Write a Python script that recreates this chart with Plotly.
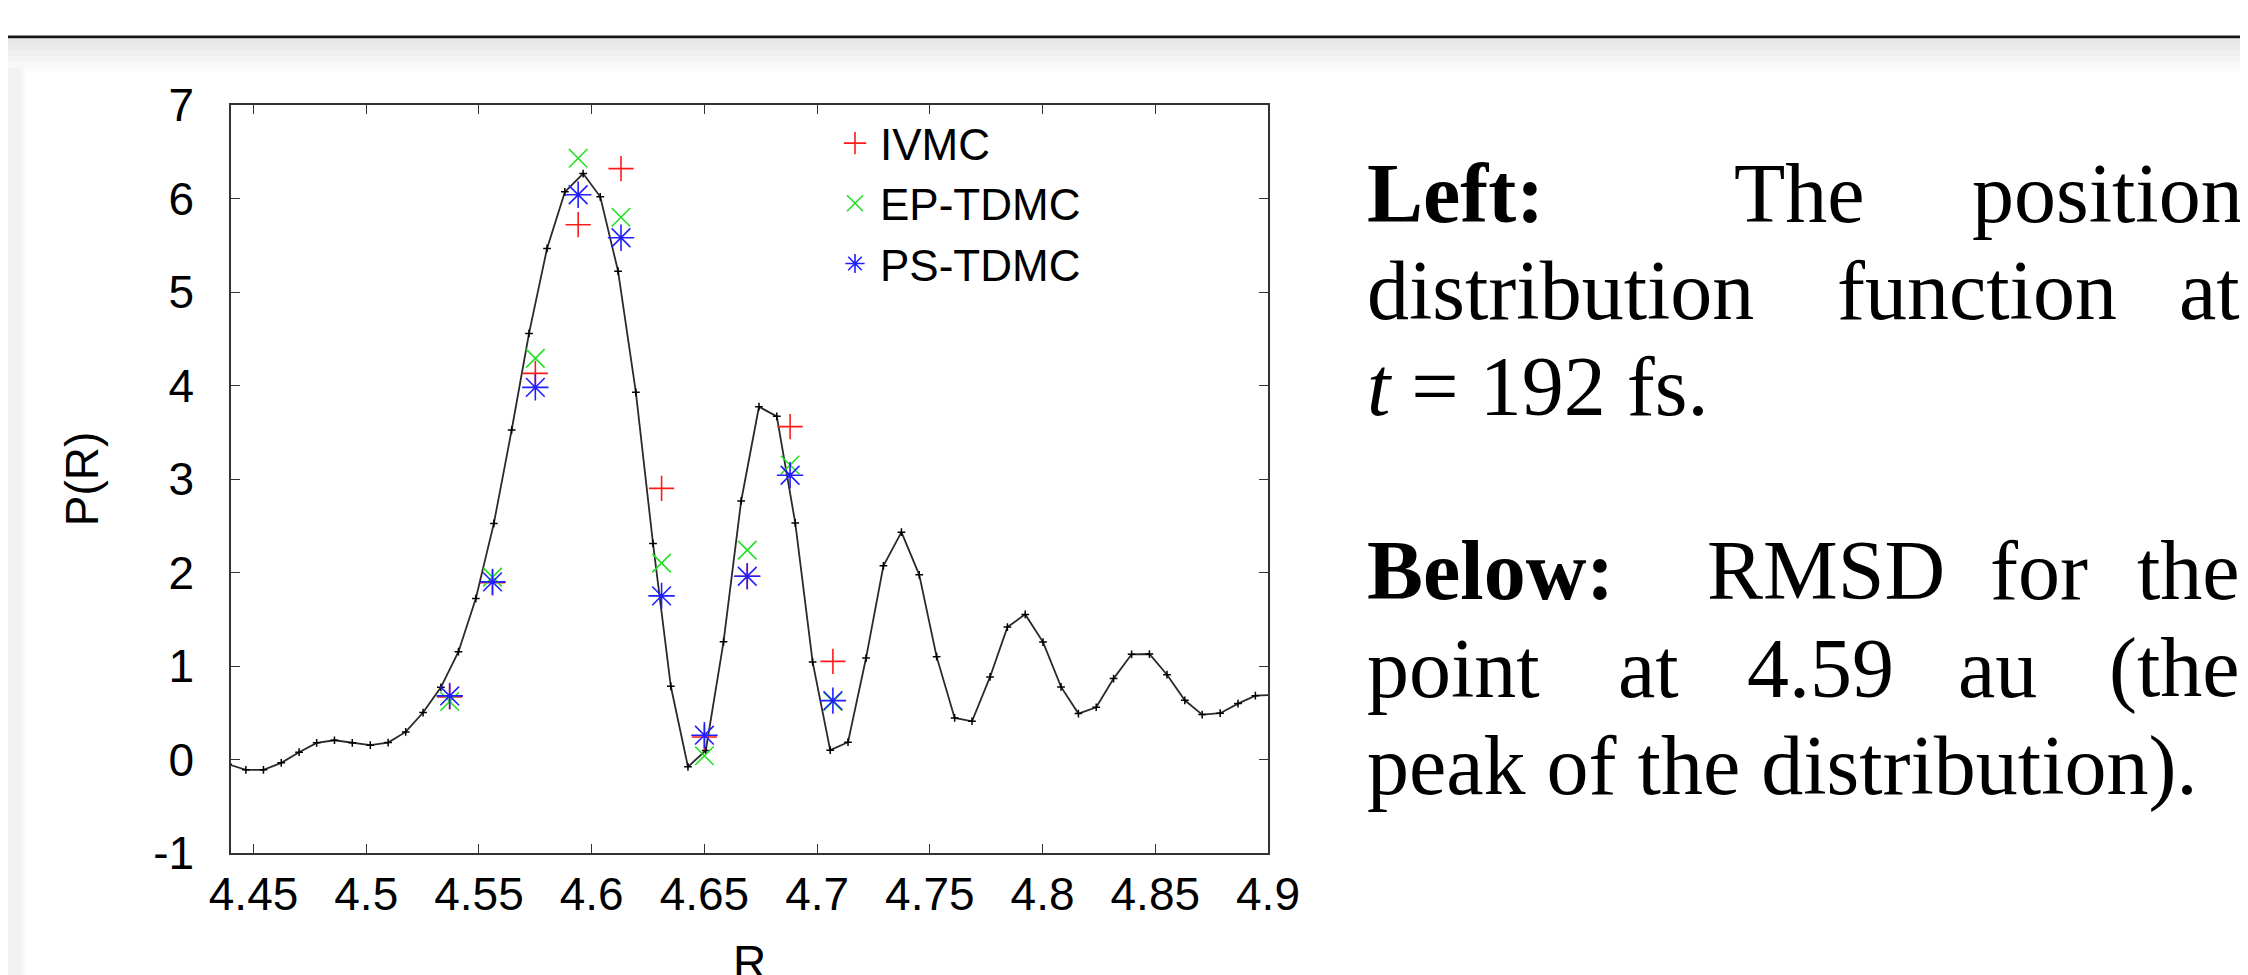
import plotly.graph_objects as go

# ---------------- data ----------------
R_curve = [4.4387, 4.4466, 4.4544, 4.4623, 4.4702, 4.4780, 4.4859, 4.4938, 4.5018, 4.5097,
           4.5175, 4.5252, 4.5331, 4.5409, 4.5486, 4.5566, 4.5645, 4.5722, 4.5802, 4.5881,
           4.5962, 4.6038, 4.6117, 4.6196, 4.6272, 4.6351, 4.6427, 4.6506, 4.6585, 4.6663,
           4.6742, 4.6821, 4.6903, 4.6980, 4.7058, 4.7137, 4.7217, 4.7294, 4.7374, 4.7453,
           4.7530, 4.7610, 4.7687, 4.7767, 4.7844, 4.7923, 4.8002, 4.8082, 4.8159, 4.8238,
           4.8315, 4.8395, 4.8474, 4.8552, 4.8631, 4.8708, 4.8788, 4.8867, 4.8944, 4.9023]
P_curve = [-0.05, -0.11, -0.11, -0.036, 0.078, 0.178, 0.206, 0.178, 0.153, 0.181,
           0.295, 0.502, 0.772, 1.153, 1.722, 2.525, 3.524, 4.557, 5.466, 6.071,
           6.267, 6.018, 5.223, 3.927, 2.31, 0.783, -0.078, 0.096, 1.260, 2.765,
           3.773, 3.670, 2.530, 1.043, 0.100, 0.185, 1.085, 2.071, 2.431, 1.975,
           1.100, 0.445, 0.409, 0.883, 1.416, 1.552, 1.256, 0.776, 0.491, 0.559,
           0.865, 1.125, 1.128, 0.907, 0.633, 0.480, 0.495, 0.598, 0.683, 0.69]

R_mc = [4.537, 4.556, 4.575, 4.594, 4.613, 4.631, 4.650, 4.669, 4.688, 4.707]
P_ivmc = [0.67, 1.89, 4.13, 5.72, 6.32, 2.90, 0.24, 1.96, 3.56, 1.05]
P_ep = [0.62, 1.95, 4.29, 6.43, 5.80, 2.10, 0.04, 2.24, 3.15, 0.62]
P_ps = [0.68, 1.90, 3.98, 6.04, 5.58, 1.75, 0.26, 1.96, 3.04, 0.63]

series_names = ["IVMC", "EP-TDMC", "PS-TDMC"]

x_tick_vals = [4.45, 4.5, 4.55, 4.6, 4.65, 4.7, 4.75, 4.8, 4.85, 4.9]
x_tick_text = ["4.45", "4.5", "4.55", "4.6", "4.65", "4.7", "4.75", "4.8", "4.85", "4.9"]
y_tick_vals = [-1, 0, 1, 2, 3, 4, 5, 6, 7]
y_tick_text = ["-1", "0", "1", "2", "3", "4", "5", "6", "7"]

# ---------------- layout geometry ----------------
W, H = 2248, 975
PL, PR, PT, PB = 223, 1260, 97, 845


def px(x):
    return (x - PL) / (PR - PL)


def py(y):
    return (PB - y) / (PB - PT)


SANS = "Liberation Sans, Arial, Helvetica, sans-serif"
SERIF = "Liberation Serif, Times New Roman, serif"

fig = go.Figure()

fig.add_trace(go.Scatter(
    x=R_curve, y=P_curve, mode="lines+markers", showlegend=False,
    line=dict(color="#2a2a2a", width=1.8),
    marker=dict(symbol="cross-thin-open", size=5.5, color="black",
                line=dict(color="black", width=1.5)),
    hoverinfo="skip"))

fig.add_trace(go.Scatter(
    x=R_mc, y=P_ivmc, mode="markers", name=series_names[0],
    marker=dict(symbol="cross-thin-open", size=18, color="#ff1a1a",
                line=dict(color="#ff1a1a", width=1.6))))
fig.add_trace(go.Scatter(
    x=R_mc, y=P_ep, mode="markers", name=series_names[1],
    marker=dict(symbol="x-thin-open", size=18.5, color="#22e022",
                line=dict(color="#22e022", width=1.6))))
fig.add_trace(go.Scatter(
    x=R_mc, y=P_ps, mode="markers", name=series_names[2],
    marker=dict(symbol="asterisk-open", size=22, color="#2020ff",
                line=dict(color="#2020ff", width=1.6))))

axis_common = dict(
    ticks="inside", ticklen=9, tickwidth=1.3, tickcolor="#333",
    showline=True, linecolor="#333", linewidth=1.5, mirror="ticks",
    showgrid=False, zeroline=False,
    tickfont=dict(family=SANS, size=46, color="black"),
)

fig.update_layout(
    width=W, height=H,
    margin=dict(l=PL, r=W - PR, t=PT, b=H - PB, autoexpand=False),
    paper_bgcolor="white", plot_bgcolor="white",
    xaxis=dict(range=[4.44, 4.9], tickmode="array", tickvals=x_tick_vals,
               ticktext=x_tick_text, ticklabelstandoff=0,
               **axis_common),
    yaxis=dict(range=[-1, 7], tickmode="array", tickvals=y_tick_vals,
               ticktext=y_tick_text, ticklabelstandoff=26,
               title=dict(text="P(R)", font=dict(family=SANS, size=46, color="black"),
                          standoff=40),
               **axis_common),
    legend=dict(x=px(822), xanchor="left", y=py(100), yanchor="top",
                font=dict(family=SANS, size=44, color="black"),
                bgcolor="rgba(0,0,0,0)", tracegroupgap=0, itemwidth=40),
    hovermode=False,
    showlegend=True,
)

# x-axis title: in the reference it sits low and is cut by the bottom edge
fig.add_annotation(text="R", xref="paper", yref="paper", x=0.5, y=py(927),
                   xanchor="center", yanchor="top", showarrow=False, borderpad=0,
                   font=dict(family=SANS, size=46, color="black"))

# ---------------- slide decorations ----------------
shapes = []
shapes.append(dict(type="rect", xref="paper", yref="paper",
                   x0=px(0), x1=px(W), y0=py(30.5), y1=py(27.5),
                   fillcolor="#161616", line=dict(width=0), layer="below"))
for (y0, y1, c) in [(30.5, 36, "#e8e8e8"), (36, 42, "#ebebeb"), (42, 48, "#efefef"),
                    (48, 54, "#f3f3f3"), (54, 60, "#f8f8f8"), (60, 64, "#fcfcfc")]:
    shapes.append(dict(type="rect", xref="paper", yref="paper",
                       x0=px(0), x1=px(W), y0=py(y1), y1=py(y0),
                       fillcolor=c, line=dict(width=0), layer="below"))
for (x0, x1, c) in [(0, 12, "#f1f1f1"), (12, 15, "#f5f5f5"), (15, 18, "#fafafa")]:
    shapes.append(dict(type="rect", xref="paper", yref="paper",
                       x0=px(x0), x1=px(x1), y0=py(H), y1=py(60),
                       fillcolor=c, line=dict(width=0), layer="below"))
fig.update_layout(shapes=shapes)

# ---------------- right-hand caption (justified by word) ----------------
FS = 84
ASC_SHIFT = 0.3375 * FS  # baseline -> middle of text box


def word(text, x, baseline, anchor):
    fig.add_annotation(text=text, xref="paper", yref="paper",
                       x=px(x), y=py(baseline - ASC_SHIFT),
                       xanchor=anchor, yanchor="middle", showarrow=False,
                       borderpad=0,
                       font=dict(family=SERIF, size=FS, color="black"))


word("<b>Left:</b>", 1358, 214, "left")
word("The", 1791, 214, "center")
word("position", 2236, 214, "right")
word("distribution", 1358, 310.5, "left")
word("function", 1969, 310.5, "center")
word("at", 2233, 310.5, "right")
word("<i>t</i> = 192 fs.", 1358, 406.5, "left")
word("<b>Below:</b>", 1358, 590.5, "left")
word("RMSD", 1818, 590.5, "center")
word("for", 2031, 590.5, "center")
word("the", 2233, 590.5, "right")
word("point", 1358, 688.5, "left")
word("at", 1640, 688.5, "center")
word("4.59", 1812, 688.5, "center")
word("au", 1989, 688.5, "center")
word("(the", 2233, 688.5, "right")
word("peak of the distribution).", 1358, 786.5, "left")

fig.write_html("out.html")
